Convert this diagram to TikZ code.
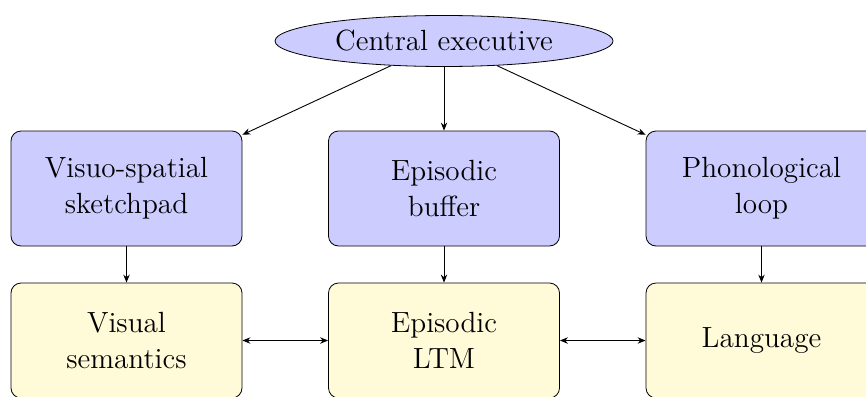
\documentclass[tikz,border=0pt]{standalone}
\usetikzlibrary{shapes.geometric,arrows.meta}
\definecolor{boxblue}{RGB}{204,204,255}
\definecolor{boxyellow}{RGB}{255,250,215}
\begin{document}
\begin{tikzpicture}[x=0.5pt,y=-0.5pt,
  every node/.style={font=\fontsize{14.6}{18}\selectfont},
  ell/.style={ellipse,draw,fill=boxblue,inner sep=0pt,minimum width=169pt,minimum height=25.5pt},
  bluebox/.style={rectangle,rounded corners=5pt,draw,fill=boxblue,inner sep=0pt,minimum width=115.5pt,minimum height=57.5pt,align=center},
  yelbox/.style={rectangle,rounded corners=5pt,draw,fill=boxyellow,inner sep=0pt,minimum width=115.5pt,minimum height=57.5pt,align=center},
  arr/.style={-{Stealth[length=4pt,width=3.2pt]},line width=0.45pt},
  darr/.style={{Stealth[length=4pt,width=3.2pt]}-{Stealth[length=4pt,width=3.2pt]},line width=0.45pt}]
\useasboundingbox (0,0) rectangle (866,396);
\node[ell] (ce) at (444,41) {Central executive};
\node[bluebox] (vs) at (126.5,188.5) {Visuo-spatial\\sketchpad};
\node[bluebox] (eb) at (444,188.5) {Episodic\\buffer};
\node[bluebox] (pl) at (761.5,188.5) {Phonological\\loop};
\node[yelbox] (vsem) at (126.5,340.5) {Visual\\semantics};
\node[yelbox] (eltm) at (444,340.5) {Episodic\\LTM};
\node[yelbox] (lang) at (761.5,340.5) {Language};
\draw[arr] (ce) -- (vs);
\draw[arr] (ce) -- (eb);
\draw[arr] (ce) -- (pl);
\draw[arr] (vs) -- (vsem);
\draw[arr] (eb) -- (eltm);
\draw[arr] (pl) -- (lang);
\draw[darr] (vsem) -- (eltm);
\draw[darr] (eltm) -- (lang);
\end{tikzpicture}
\end{document}
